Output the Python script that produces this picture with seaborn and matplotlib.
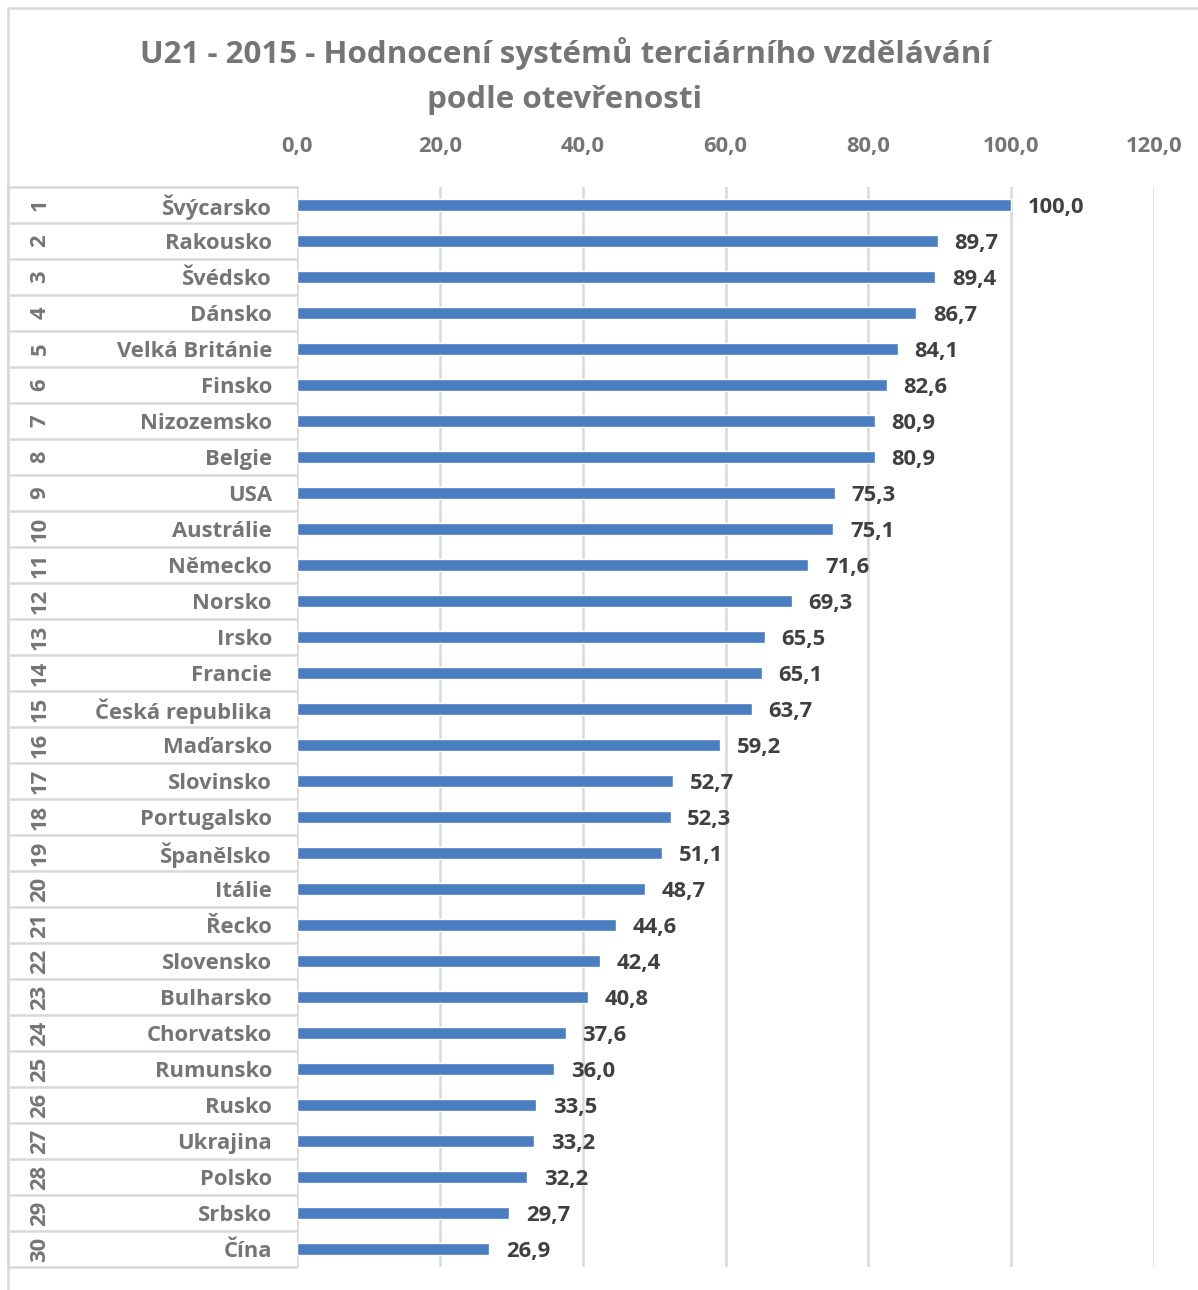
import matplotlib
matplotlib.use("Agg")
import matplotlib.pyplot as plt
from matplotlib.lines import Line2D
import seaborn as sns
import pandas as pd

# Ranking data
ranks = [str(i) for i in range(1, 31)]
countries = [
    "Švýcarsko", "Rakousko", "Švédsko", "Dánsko", "Velká Británie", "Finsko",
    "Nizozemsko", "Belgie", "USA", "Austrálie", "Německo", "Norsko", "Irsko",
    "Francie", "Česká republika", "Maďarsko", "Slovinsko", "Portugalsko",
    "Španělsko", "Itálie", "Řecko", "Slovensko", "Bulharsko", "Chorvatsko",
    "Rumunsko", "Rusko", "Ukrajina", "Polsko", "Srbsko", "Čína",
]
scores = [
    100.0, 89.7, 89.4, 86.7, 84.1, 82.6, 80.9, 80.9, 75.3, 75.1,
    71.6, 69.3, 65.5, 65.1, 63.7, 59.2, 52.7, 52.3, 51.1, 48.7,
    44.6, 42.4, 40.8, 37.6, 36.0, 33.5, 33.2, 32.2, 29.7, 26.9,
]
x_ticks = [0, 20, 40, 60, 80, 100, 120]
title = "U21 - 2015 - Hodnocení systémů terciárního vzdělávání\npodle otevřenosti"

df = pd.DataFrame({"rank": ranks, "country": countries, "score": scores})

sns.set_theme(style="white")
plt.rcParams["font.family"] = ["Open Sans", "DejaVu Sans"]
plt.rcParams["font.weight"] = "bold"

GREY = "#757575"
DARK = "#404040"
LINE = "#D9D9D9"
BAR = "#4A7EC0"
FS = 15.8

W, H = 1198, 1290
fig = plt.figure(figsize=(W / 100, H / 100), dpi=100)
x0, x1 = 297, 1154
y0, y1 = 187, 1267
ax = fig.add_axes([x0 / W, 1 - y1 / H, (x1 - x0) / W, (y1 - y0) / H])

sns.barplot(data=df, x="score", y="country", orient="h", color=BAR,
            width=0.34, saturation=1, ax=ax)

ax.set_xlim(0, 120)
ax.set_ylim(len(countries) - 0.5, -0.5)
ax.set_xticks(x_ticks)
ax.set_xticklabels([f"{t:.1f}".replace(".", ",") for t in x_ticks],
                   color=GREY, fontsize=FS, fontweight="bold")
ax.xaxis.tick_top()
ax.tick_params(axis="x", length=0, pad=21.5)
ax.tick_params(axis="y", length=0, pad=18)
for lab in ax.get_yticklabels():
    lab.set_color(GREY)
    lab.set_fontsize(FS)
    lab.set_fontweight("bold")
ax.set_xlabel("")
ax.set_ylabel("")
for s in ax.spines.values():
    s.set_visible(False)
ax.grid(axis="x", color=LINE, linewidth=1.8)
ax.set_axisbelow(True)

# Value labels
texts = ax.bar_label(ax.containers[0], fmt=lambda v: f"{v:.1f}".replace(".", ","),
                     padding=12, color=DARK, fontsize=FS, fontweight="bold")
for t in texts:
    t.set_va("center_baseline")

# Category table on the left: row separators and rotated rank numbers
trans = ax.get_yaxis_transform()
left_ax = (8 - x0) / (x1 - x0)
for b in range(len(countries) + 1):
    yb = b - 0.5
    ax.add_line(Line2D([left_ax, 0], [yb, yb], transform=trans, color=LINE,
                       linewidth=1.8, clip_on=False))
ax.add_line(Line2D([left_ax, left_ax], [-0.5, len(countries) - 0.5],
                   transform=trans, color=LINE, linewidth=1.8, clip_on=False))
rank_x = (40 - x0) / (x1 - x0)
for i, r in enumerate(ranks):
    ax.text(rank_x, i, r, transform=trans, rotation=90, ha="center",
            va="center", color=GREY, fontsize=FS, fontweight="bold")

# Outer chart frame
fig.add_artist(Line2D([8 / W, 8 / W], [0, 1 - 8 / H], transform=fig.transFigure,
                      color=LINE, linewidth=1.8))
fig.add_artist(Line2D([8 / W, 1], [1 - 8 / H, 1 - 8 / H], transform=fig.transFigure,
                      color=LINE, linewidth=1.8))

fig.text(565 / W, 1 - 76 / H, title, ha="center", va="center", color=GREY,
         fontsize=22.6, fontweight="bold", linespacing=1.62)

fig.savefig("out.png", dpi=100)
